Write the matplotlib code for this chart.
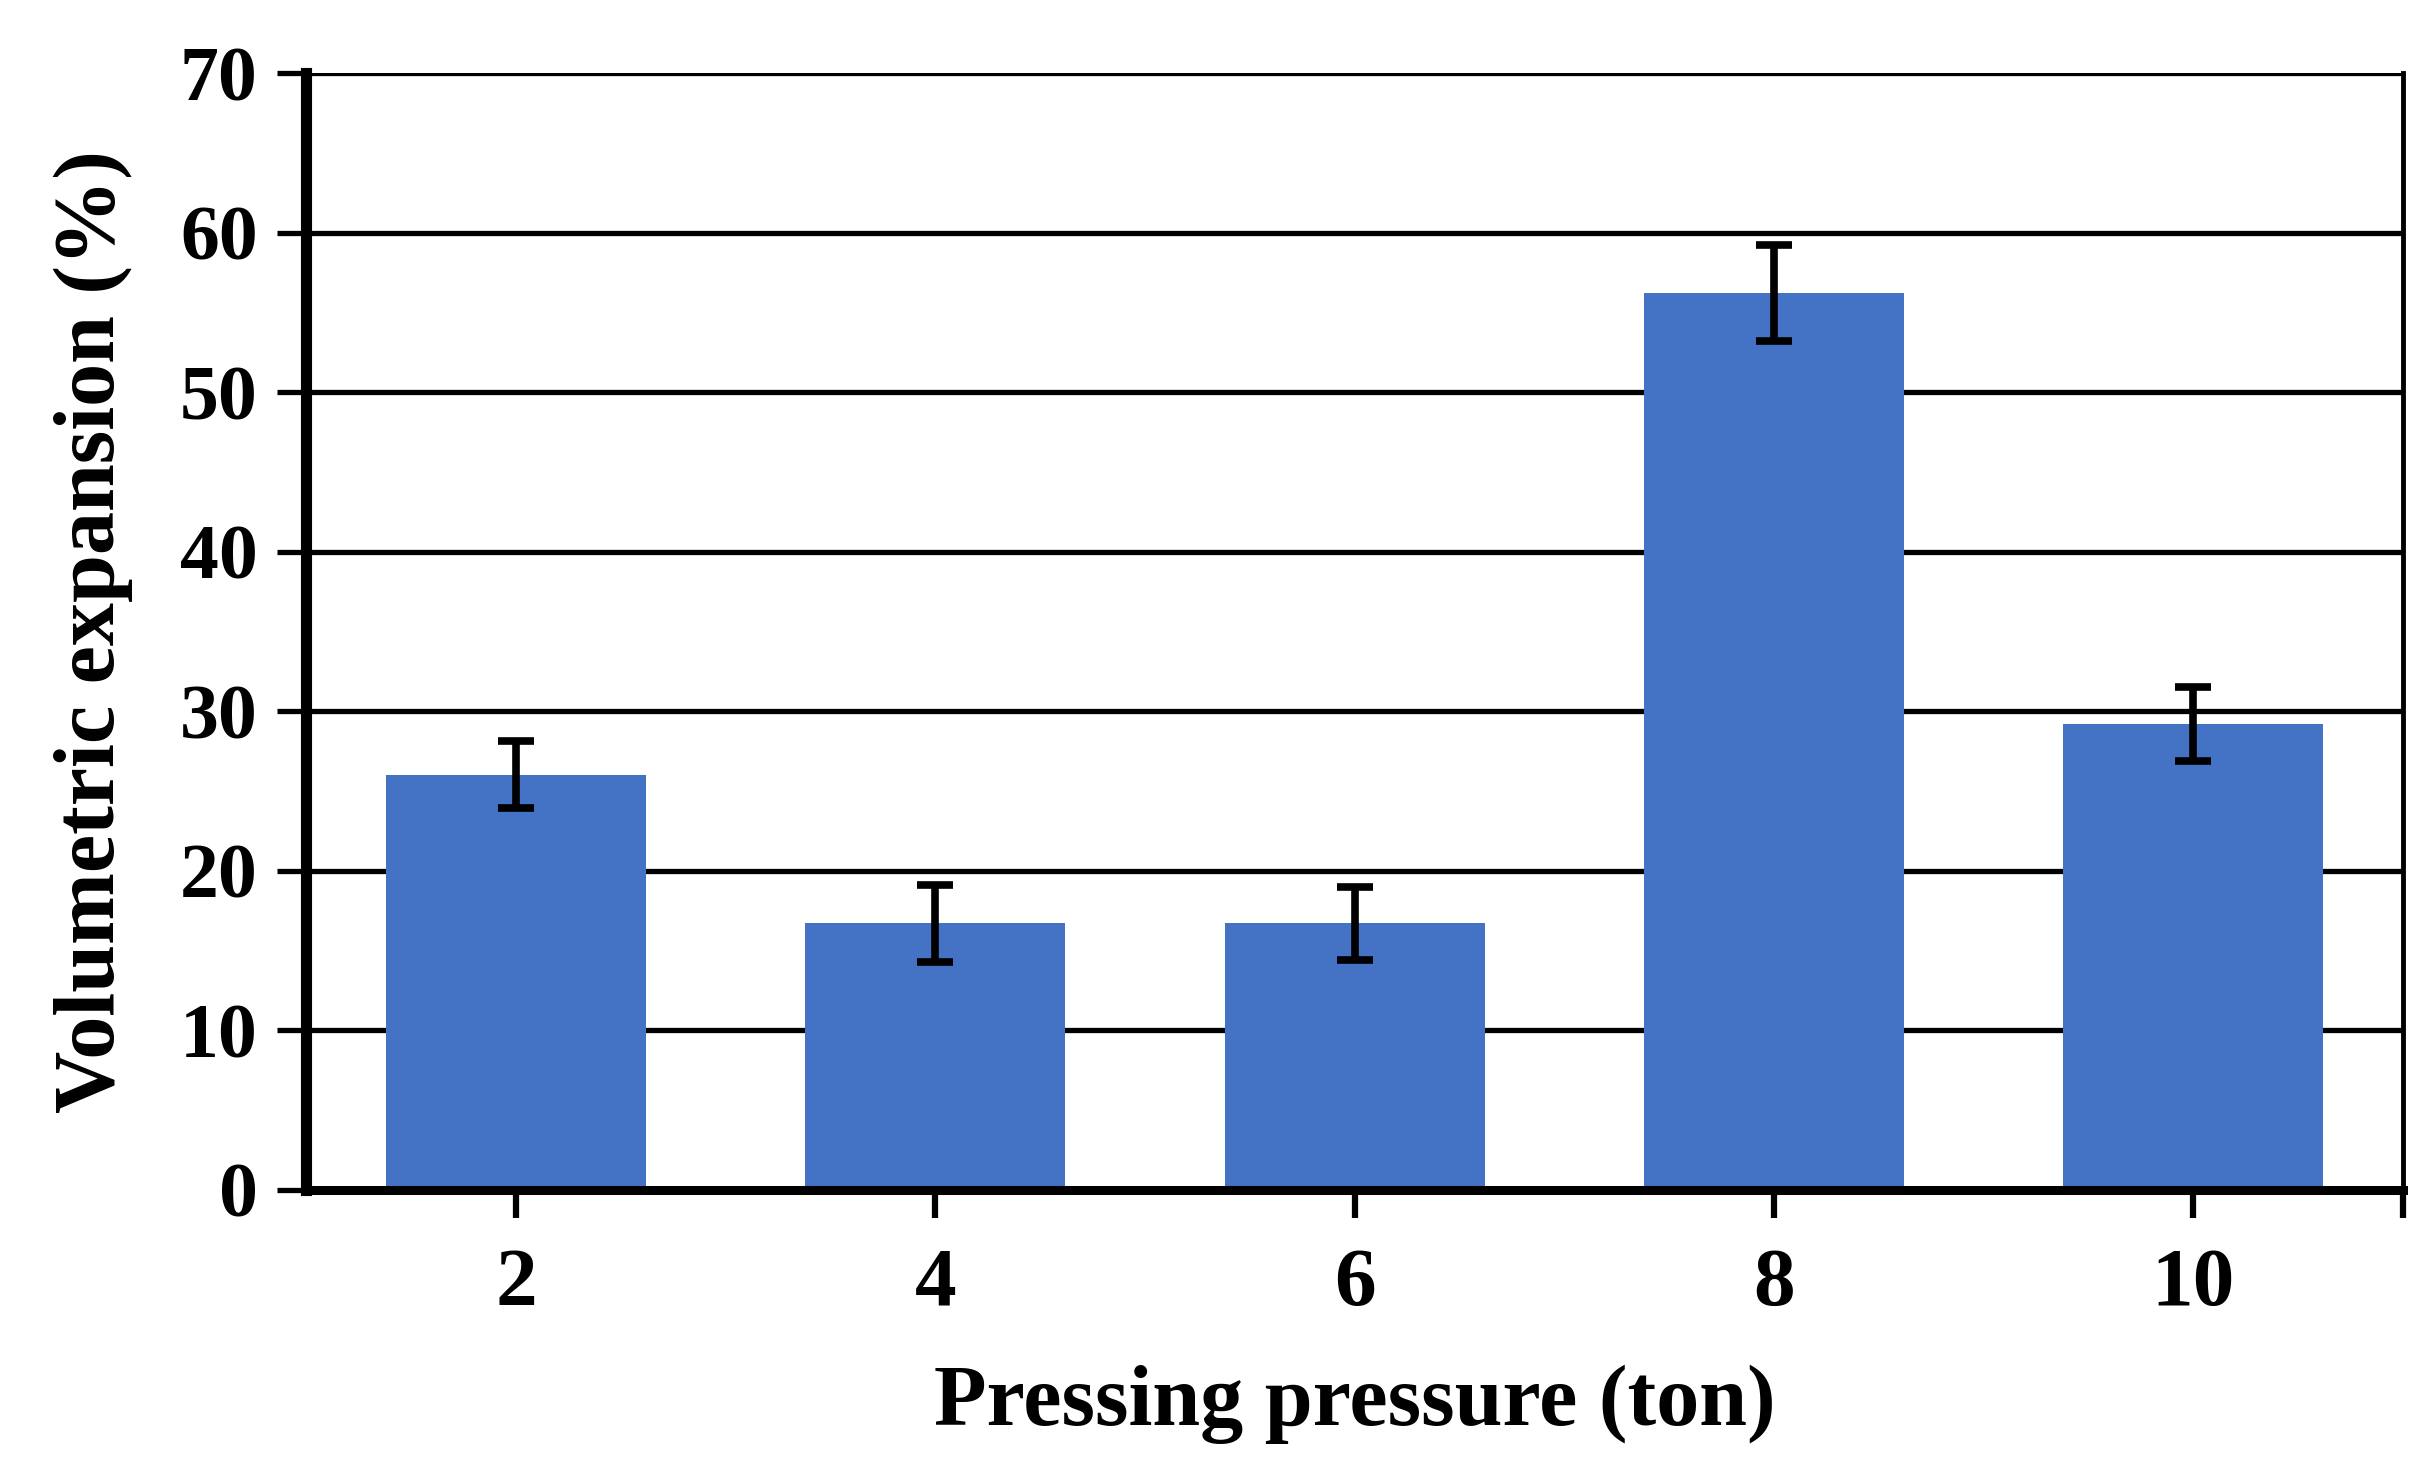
import numpy as np
import matplotlib
matplotlib.use("Agg")
import matplotlib.pyplot as plt

# values
pressures = ["2", "4", "6", "8", "10"]
expansion = [26.0, 16.7, 16.7, 56.2, 29.2]
expansion_err = [2.1, 2.4, 2.3, 3.0, 2.3]

plt.rcParams["font.family"] = ["Liberation Serif", "DejaVu Serif"]
plt.rcParams["font.weight"] = "bold"

fig = plt.figure(figsize=(24.32, 14.65), dpi=100)
ax = fig.add_axes([0.126, 0.188, 0.862, 0.762])

x = np.arange(len(pressures))
ax.bar(x, expansion, width=0.62, color="#4472C4", zorder=2)
ax.errorbar(x, expansion, yerr=expansion_err, fmt="none", ecolor="black",
            elinewidth=5.5, capsize=13, capthick=5.5, zorder=3)

ax.set_xlim(-0.5, len(pressures) - 0.5)
ax.set_ylim(0, 70)
ax.set_yticks(np.arange(0, 71, 10))
ax.set_xticks(list(x) + [len(pressures) - 0.5])
ax.set_xticklabels(pressures + [""])

# horizontal gridlines
ax.yaxis.grid(True, color="black", linewidth=3.8, zorder=1)
ax.set_axisbelow(True)

ax.spines["top"].set_visible(False)
ax.spines["left"].set_linewidth(8)
ax.spines["bottom"].set_linewidth(6.5)
ax.spines["right"].set_linewidth(3.5)
for s in ax.spines.values():
    s.set_zorder(4)

ax.tick_params(axis="y", direction="out", length=21, width=3.8, labelsize=56, pad=14)
ax.tick_params(axis="x", direction="out", length=20, width=4.5, labelsize=60, pad=22)

ax.set_xlabel("Pressing pressure (ton)", fontsize=62, fontweight="bold", labelpad=30)
ax.set_ylabel("Volumetric expansion (%)", fontsize=62, fontweight="bold", labelpad=34)

fig.savefig("out.png", dpi=100)
